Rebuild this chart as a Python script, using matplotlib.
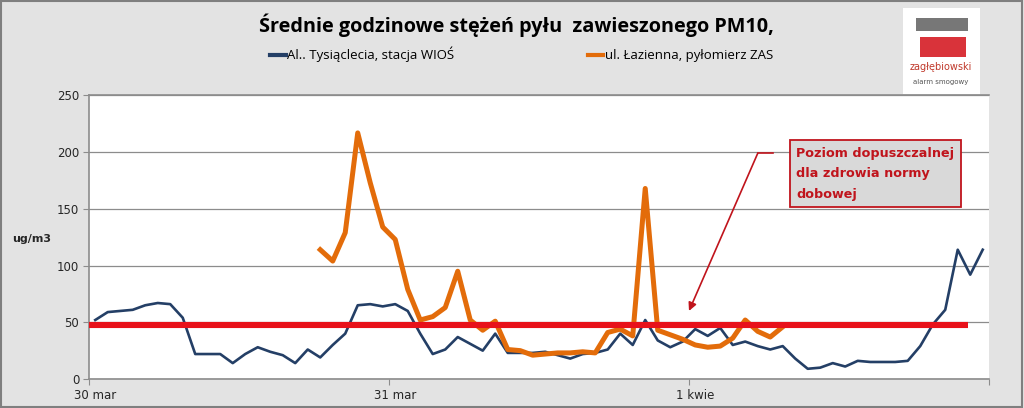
import numpy as np
import matplotlib
matplotlib.use("Agg")
import matplotlib.pyplot as plt
from matplotlib.patches import Rectangle

# hourly values, 30 mar 00h .. 1 kwie 23h
wios = [52, 59, 60, 61, 65, 67, 66, 54, 22, 22, 22, 14, 22, 28, 24, 21, 14, 26, 19, 30,
        40, 65, 66, 64, 66, 60, 40, 22, 26, 37, 31, 25, 40, 23, 23, 23, 24, 21, 18, 22,
        23, 26, 40, 30, 52, 34, 28, 33, 44, 38, 45, 30, 33, 29, 26, 29, 18, 9, 10, 14,
        11, 16, 15, 15, 15, 16, 29, 48, 61, 114, 92, 114]
zas_start = 18
zas = [114, 104, 129, 217, 173, 134, 123, 79, 52, 55, 63, 95, 52, 43, 51, 26, 25, 21, 22, 23,
       23, 24, 23, 41, 44, 38, 168, 43, 39, 35, 30, 28, 29, 36, 52, 42, 37, 46]
norm_value = 48
norm_end = 70.3
tick_pos = [0, 24, 48, 72]
tick_labels = ["30 mar", "31 mar", "1 kwie", ""]
y_ticks = [0, 50, 100, 150, 200, 250]

blue = "#243F66"
orange = "#E36C0A"
red = "#E8111A"
dark_red = "#C0141C"

fig = plt.figure(figsize=(10.24, 4.08), dpi=100)
fig.patch.set_facecolor("#E3E3E3")
fig.patches.append(Rectangle((0.001, 0.002), 0.997, 0.995, transform=fig.transFigure,
                             fill=False, edgecolor="#7F7F7F", linewidth=1.5))

ax = fig.add_axes([0.0869, 0.0711, 0.8789, 0.6949])
ax.set_facecolor("white")

x_wios = np.arange(len(wios)) + 0.5
x_zas = np.arange(len(zas)) + zas_start + 0.5
ax.plot(x_wios, wios, color=blue, linewidth=1.9, solid_joinstyle="round", zorder=3,
        label="Al.. Tysiąclecia, stacja WIOŚ")
ax.plot(x_zas, zas, color=orange, linewidth=3.6, solid_joinstyle="round", zorder=4,
        label="ul. Łazienna, pyłomierz ZAS")
ax.plot([0, norm_end], [norm_value, norm_value], color=red, linewidth=4.4,
        solid_capstyle="butt", zorder=5)

ax.set_xlim(0, 72)
ax.set_ylim(0, 250)
ax.set_yticks(y_ticks)
ax.set_xticks(tick_pos)
ax.set_xticklabels([])
for p, lab in zip(tick_pos, tick_labels):
    ax.text(p + 0.5, -9, lab, ha="center", va="top", fontsize=8.5, color="#262626")
ax.tick_params(axis="y", length=4, color="#8C8C8C", labelsize=8.5, labelcolor="#262626", pad=3)
ax.tick_params(axis="x", length=4, color="#8C8C8C", direction="out")
ax.grid(axis="y", color="#8C8C8C", linewidth=0.9)
ax.spines["right"].set_visible(False)
for s in ["top", "left", "bottom"]:
    ax.spines[s].set_color("#8C8C8C")
    ax.spines[s].set_linewidth(1.2)

fig.text(0.012, 0.415, "ug/m3", fontsize=8, fontweight="bold", color="#262626",
         ha="left", va="center")

fig.text(0.504, 0.937, "Średnie godzinowe stężeń pyłu  zawieszonego PM10,",
         fontsize=14.3, fontweight="bold", ha="center", va="center",
         family=["Open Sans", "DejaVu Sans"], color="black")

leg = ax.legend(loc="lower left", bbox_to_anchor=(0.188, 1.075), ncol=2, frameon=False,
                handlelength=1.2, handletextpad=0.1, columnspacing=10.1,
                prop={"family": "Open Sans", "size": 9.5})
for h in leg.get_lines():
    h.set_linewidth(3)

# annotation box
ax.text(56.6, 205, "Poziom dopuszczalnej\ndla zdrowia normy\ndobowej", fontsize=9.2,
        fontweight="bold", color=dark_red, va="top", ha="left", linespacing=1.75, zorder=6,
        bbox=dict(boxstyle="square,pad=0.5", facecolor="#D9D9D9", edgecolor=dark_red,
                  linewidth=1.3))
ax.plot([53.5, 54.7], [199, 199], color=dark_red, linewidth=1.2, zorder=6)
ax.annotate("", xy=(48.0, 60), xytext=(53.5, 199),
            arrowprops=dict(arrowstyle="-|>", color=dark_red, linewidth=1.2,
                            mutation_scale=12, shrinkA=0, shrinkB=0), zorder=6)

# logo placeholder
fig.patches.append(Rectangle((0.882, 0.77), 0.075, 0.21, transform=fig.transFigure,
                             facecolor="white", edgecolor="none"))
fig.patches.append(Rectangle((0.898, 0.86), 0.045, 0.05, transform=fig.transFigure,
                             facecolor="#D9333A", edgecolor="none"))
fig.patches.append(Rectangle((0.895, 0.925), 0.05, 0.03, transform=fig.transFigure,
                             facecolor="#777777", edgecolor="none"))
fig.text(0.919, 0.835, "zagłębiowski", fontsize=7, color="#C0392B", ha="center", va="center")
fig.text(0.919, 0.8, "alarm smogowy", fontsize=5, color="#555555", ha="center", va="center")

fig.savefig("out.png", dpi=100, facecolor=fig.get_facecolor())
